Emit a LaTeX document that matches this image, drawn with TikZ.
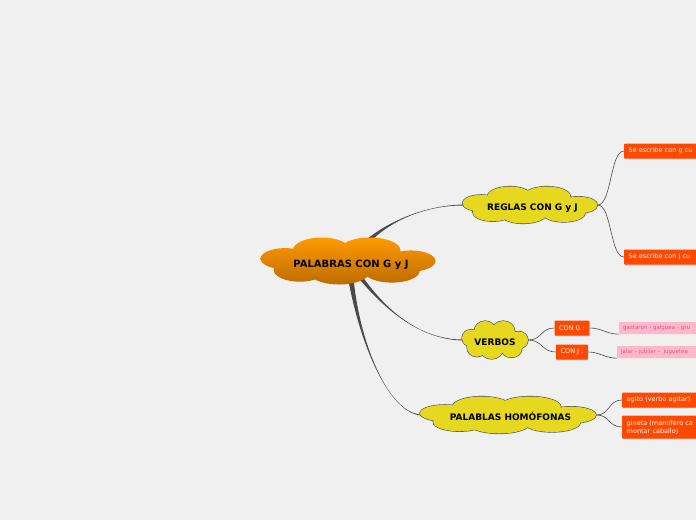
\documentclass[tikz,border=0pt]{standalone}
\usepackage{fontspec}
\setmainfont{DejaVu Sans}
\usetikzlibrary{shadows,calc,backgrounds}

\definecolor{bgcol}{HTML}{F0F0F0}
\definecolor{orangeTop}{HTML}{FF9A00}
\definecolor{orangeBot}{HTML}{BD6C00}
\definecolor{mapYellow}{HTML}{E5D81F}
\definecolor{boxRed}{HTML}{FF4800}
\definecolor{pinkFill}{HTML}{FFB8CB}
\definecolor{pinkText}{HTML}{D45A85}
\definecolor{branchGrey}{HTML}{4A4A4A}

\begin{document}
\begin{tikzpicture}[x=1pt, y=-1pt,
    topic/.style={rectangle, inner sep=0pt, text height=13.5pt, text depth=2pt,
      font=\fontsize{9}{10}\selectfont\bfseries},
    leaf/.style={rectangle, rounded corners=0.6pt, fill=boxRed, text=white,
      inner xsep=4.5pt, inner ysep=0pt, minimum height=15pt,
      font=\fontsize{6.5}{8}\selectfont,
      drop shadow={shadow xshift=0.6pt, shadow yshift=-0.9pt, opacity=0.3}},
    sample/.style={rectangle, rounded corners=0.6pt, fill=pinkFill, text=pinkText,
      inner xsep=4pt, inner ysep=0pt, minimum height=12pt, anchor=west,
      text width=90pt, font=\fontsize{5.5}{6}\selectfont},
    twig/.style={draw=black!70, line width=0.6pt},
    branch/.style={fill=branchGrey},
    puffline/.style={draw=black!70, line width=1.2pt},
    pufffill/.style={fill=mapYellow}]
  \useasboundingbox (0,0) rectangle (696,520);
  \begin{scope}[on background layer]
    \fill[bgcol] (0,0) rectangle (696,520);
  \end{scope}
  \clip (0,0) rectangle (696,520);

  % puffs of a cloud, in a box from -1 to 1 (y up)
  \def\puffs{(-0.72,0.1) ellipse [x radius=0.28, y radius=0.45]
    (-0.3,0.45) ellipse [x radius=0.33, y radius=0.55]
    (0.25,0.45) ellipse [x radius=0.35, y radius=0.55]
    (0.72,0) ellipse [x radius=0.28, y radius=0.45]
    (0.5,-0.42) ellipse [x radius=0.32, y radius=0.5]
    (-0.1,-0.45) ellipse [x radius=0.35, y radius=0.55]
    (-0.55,-0.38) ellipse [x radius=0.3, y radius=0.5]
    (0,0) ellipse [x radius=0.7, y radius=0.6]}

  % central topic
  \node[rectangle, inner sep=0pt, minimum width=175pt, minimum height=47pt,
        text height=14.5pt, text depth=2.2pt,
        font=\fontsize{10}{12}\selectfont\bfseries] (root) at (348,261) {\hspace{6pt}PALABRAS CON G y J};

  % main topics
  \node[topic, minimum width=135pt, minimum height=37pt] (reglas) at (530,205) {\hspace{5pt}REGLAS CON G y J};
  \node[topic, minimum width=66pt, minimum height=38pt] (verbos) at (495,340) {VERBOS};
  \node[topic, minimum width=176pt, minimum height=37pt] (homof) at (508,415) {\hspace{5pt}PALABLAS HOMÓFONAS};

  % rules
  \node[leaf, anchor=west, text width=80pt] (reglaG) at (624,151) {Se escribe con g cu};
  \node[leaf, anchor=west, text width=80pt] (reglaJ) at (624,257) {Se escribe con j cu};

  % verbs
  \node[leaf] (conG) at (572,328) {CON G :};
  \node[leaf] (conJ) at (572,352) {CON J :};
  \node[sample] (ejG) at (619,328) {gastaron - galguea - gru};
  \node[sample] (ejJ) at (617,352) {jalar - jubilar -\ \ juguetea};

  % homophones
  \node[leaf, anchor=west, text width=80pt] (agito) at (622,400) {agito (verbo agitar)};
  \node[leaf, anchor=west, text width=80pt, align=left, inner ysep=3.5pt,
        minimum height=23pt] (gineta) at (622,427) {gineta (mamífero ca\\montar caballo)};

  % tapered branches from the centre
  \coordinate (root1) at (362,247);
  \coordinate (root2) at (358,274);
  \coordinate (root3) at (350,272);
  \begin{scope}[on background layer]
    \fill[branch] ($(root1)+(-2,-2)$) .. controls (385,222) and (425,205) .. ($(reglas.west)+(2,-0.5)$)
      -- ($(reglas.west)+(2,0.5)$) .. controls (425,205) and (385,222) .. ($(root1)+(2,2)$) -- cycle;
    \fill[branch] ($(root2)+(1.8,-1.4)$) .. controls (385,310) and (420,340) .. ($(verbos.west)+(2,-0.5)$)
      -- ($(verbos.west)+(2,0.5)$) .. controls (420,340) and (385,310) .. ($(root2)+(-1.8,1.4)$) -- cycle;
    \fill[branch] ($(root3)+(3,0)$) .. controls (358,340) and (388,414) .. ($(homof.west)+(2,-0.5)$)
      -- ($(homof.west)+(2,0.5)$) .. controls (388,414) and (358,340) .. ($(root3)+(-3,0)$) -- cycle;

    % clouds
    \begin{scope}[shift={(root.center)}, x=87.5pt, y=23.5pt]
      \shade[top color=orangeTop, bottom color=orangeBot] \puffs;
    \end{scope}
    \begin{scope}[shift={(reglas.center)}, x=67.5pt, y=18.5pt]
      \draw[puffline] \puffs;
      \fill[pufffill] \puffs;
    \end{scope}
    \begin{scope}[shift={(verbos.center)}, x=33pt, y=19pt]
      \draw[puffline] \puffs;
      \fill[pufffill] \puffs;
    \end{scope}
    \begin{scope}[shift={(homof.center)}, x=88pt, y=18.5pt]
      \draw[puffline] \puffs;
      \fill[pufffill] \puffs;
    \end{scope}
  \end{scope}

  % small connectors
  \draw[twig] (reglas.east) .. controls +(14,0) and +(-14,0) .. (reglaG.west);
  \draw[twig] (reglas.east) .. controls +(14,0) and +(-14,0) .. (reglaJ.west);
  \draw[twig] (verbos.east) .. controls +(14,0) and +(-14,0) .. (conG.west);
  \draw[twig] (verbos.east) .. controls +(14,0) and +(-14,0) .. (conJ.west);
  \draw[twig] (conG.east) .. controls +(12,0) and +(-12,0) .. (ejG.south west);
  \draw[twig] (conJ.east) .. controls +(12,0) and +(-12,0) .. (ejJ.south west);
  \draw[twig] (homof.east) .. controls +(14,0) and +(-14,0) .. (agito.west);
  \draw[twig] (homof.east) .. controls +(14,0) and +(-14,0) .. (gineta.west);
\end{tikzpicture}
\end{document}
